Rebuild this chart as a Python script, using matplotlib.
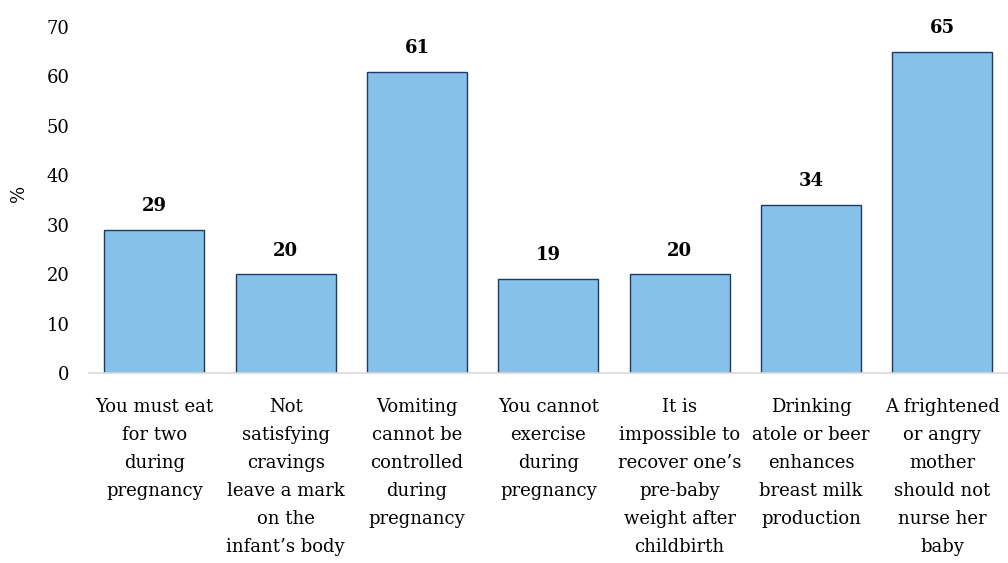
import matplotlib
matplotlib.use("Agg")
import matplotlib.pyplot as plt

# Data
categories = [
    "You must eat\nfor two\nduring\npregnancy",
    "Not\nsatisfying\ncravings\nleave a mark\non the\ninfant\u2019s body",
    "Vomiting\ncannot be\ncontrolled\nduring\npregnancy",
    "You cannot\nexercise\nduring\npregnancy",
    "It is\nimpossible to\nrecover one\u2019s\npre-baby\nweight after\nchildbirth",
    "Drinking\natole or beer\nenhances\nbreast milk\nproduction",
    "A frightened\nor angry\nmother\nshould not\nnurse her\nbaby",
]
values = [29, 20, 61, 19, 20, 34, 65]
yticks = [0, 10, 20, 30, 40, 50, 60, 70]

plt.rcParams['font.family'] = ['DejaVu Serif']

fig = plt.figure(figsize=(10.08, 5.63), dpi=100)
ax = fig.add_axes([0.088, 0.3375, 0.912, 0.6145])

x = range(len(values))
bars = ax.bar(x, values, width=0.76, color='#85C1E9', edgecolor='#1F3864', linewidth=1.0)

for xi, v in zip(x, values):
    ax.annotate(str(v), (xi, v), xytext=(0, 17), textcoords='offset points',
                ha='center', va='center', fontsize=13, fontweight='bold')

ax.set_ylim(0, 70)
ax.set_xlim(-0.5, len(values) - 0.5)
ax.set_yticks(yticks)
ax.set_yticklabels([str(t) for t in yticks], fontsize=13)
ax.set_xticks(list(x))
ax.set_xticklabels(categories, fontsize=13, linespacing=1.72, va='top')
ax.tick_params(axis='both', length=0)
ax.tick_params(axis='x', pad=18)
ax.tick_params(axis='y', pad=14)

for s in ['top', 'right', 'left']:
    ax.spines[s].set_visible(False)
ax.spines['bottom'].set_color('#D9D9D9')
ax.spines['bottom'].set_linewidth(1.2)

ax.set_ylabel('%', fontsize=13)
ax.yaxis.set_label_coords(-0.066, 0.52)

fig.savefig('out.png', dpi=100)
